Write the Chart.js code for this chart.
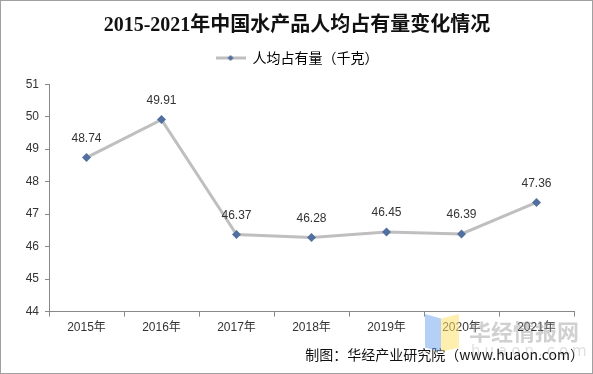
<!DOCTYPE html>
<html>
<head>
<meta charset="utf-8">
<script src="https://cdn.jsdelivr.net/npm/chart.js@4.4.1/dist/chart.umd.min.js"></script>
<style>
  body { margin: 0; background: #fff; }
  #wrap { position: relative; width: 593px; height: 374px; box-sizing: border-box; border: 1px solid #a0a0a0; }
  #chart { position: absolute; left: 0; top: 0; }
  .mark { position: absolute; pointer-events: none; }
</style>
</head>
<body>
<div id="wrap">
  <canvas id="chart" width="591" height="372"></canvas>
  <div class="mark" style="left:424px;top:313px;width:16px;height:38px;background:rgba(120,170,240,0.55);clip-path:polygon(0 0,100% 12%,100% 100%,0 88%);"></div>
  <div class="mark" style="left:440px;top:313px;width:18px;height:38px;background:rgba(255,225,110,0.55);clip-path:polygon(0 12%,100% 0,100% 88%,0 100%);"></div>
  <div class="mark" style="left:468px;top:313px;font:bold 22px 'Noto Sans CJK SC';color:rgba(150,150,150,0.45);">华经情报网</div>
  <div class="mark" style="left:470px;top:341px;font:15px 'DejaVu Sans';letter-spacing:4px;color:rgba(150,150,150,0.3);">huaon.com</div>
</div>
<script>
const years = ["2015年", "2016年", "2017年", "2018年", "2019年", "2020年", "2021年"];
const perCapita = [48.74, 49.91, 46.37, 46.28, 46.45, 46.39, 47.36];
const yMin = 44;
const yMax = 51;
const sourceNote = "制图：华经产业研究院（www.huaon.com）";

const lineGray = "#bfbfbf";
const markerBlue = "#52709f";

const ctx = document.getElementById("chart").getContext("2d");

// legend swatch: short line with a diamond in the middle
const swatch = document.createElement("canvas");
swatch.width = 30;
swatch.height = 10;
{
  const s = swatch.getContext("2d");
  s.strokeStyle = lineGray;
  s.lineWidth = 3;
  s.beginPath();
  s.moveTo(0, 5);
  s.lineTo(30, 5);
  s.stroke();
  s.fillStyle = markerBlue;
  s.beginPath();
  s.moveTo(15, 2);
  s.lineTo(18, 5);
  s.lineTo(15, 8);
  s.lineTo(12, 5);
  s.closePath();
  s.fill();
}

// value labels above each point + source note under the axis
const pointLabels = {
  id: "pointLabels",
  afterDatasetsDraw(chart) {
    const c = chart.ctx;
    const meta = chart.getDatasetMeta(0);
    c.save();
    c.font = "12px Arial, 'Liberation Sans'";
    c.fillStyle = "#333";
    c.textAlign = "center";
    c.textBaseline = "middle";
    meta.data.forEach((pt, i) => {
      c.fillText(perCapita[i].toFixed(2), pt.x, pt.y - 19);
    });
    c.font = "14px 'Noto Sans CJK SC'";
    c.fillStyle = "#111";
    c.textAlign = "right";
    c.fillText(sourceNote, chart.chartArea.right + 10, 354);
    c.restore();
  }
};

new Chart(ctx, {
  type: "line",
  data: {
    labels: years,
    datasets: [{
      label: "人均占有量（千克）",
      data: perCapita,
      borderColor: lineGray,
      borderWidth: 3,
      backgroundColor: markerBlue,
      pointStyle: "rectRot",
      pointRadius: 4.5,
      pointBorderWidth: 0,
      pointBackgroundColor: markerBlue,
      tension: 0
    }]
  },
  options: {
    responsive: false,
    animation: false,
    layout: { padding: { left: 19, right: 18, top: 0, bottom: 34 } },
    plugins: {
      title: {
        display: true,
        text: "2015-2021年中国水产品人均占有量变化情况",
        color: "#111",
        font: { family: "'Liberation Serif', 'Noto Sans CJK SC'", size: 20, weight: "bold" },
        padding: { top: 13, bottom: -1 }
      },
      // blank spacer between legend and plot
      subtitle: {
        display: true,
        text: " ",
        weight: 500,
        font: { size: 1 },
        padding: { top: 8, bottom: 0 }
      },
      legend: {
        display: true,
        labels: {
          color: "#333",
          font: { family: "'Noto Sans CJK SC'", size: 14 },
          usePointStyle: true,
          pointStyleWidth: 30,
          padding: 14,
          generateLabels(chart) {
            return [{
              text: chart.data.datasets[0].label,
              pointStyle: swatch,
              fillStyle: lineGray,
              strokeStyle: lineGray,
              lineWidth: 0,
              datasetIndex: 0
            }];
          }
        }
      },
      tooltip: { enabled: false }
    },
    scales: {
      x: {
        offset: true,
        grid: { offset: true, drawOnChartArea: false, color: "#888", tickLength: 5 },
        border: { color: "#888" },
        ticks: { color: "#333", font: { family: "Arial, 'Noto Sans CJK SC'", size: 12 }, padding: 4 }
      },
      y: {
        min: yMin,
        max: yMax,
        afterFit(scale) { scale.width = 29; },
        grid: { drawOnChartArea: false, color: "#888", tickLength: 4 },
        border: { color: "#888" },
        ticks: { stepSize: 1, color: "#333", font: { family: "Arial, 'Liberation Sans'", size: 12 }, padding: 6 }
      }
    }
  },
  plugins: [pointLabels]
});
</script>
</body>
</html>
